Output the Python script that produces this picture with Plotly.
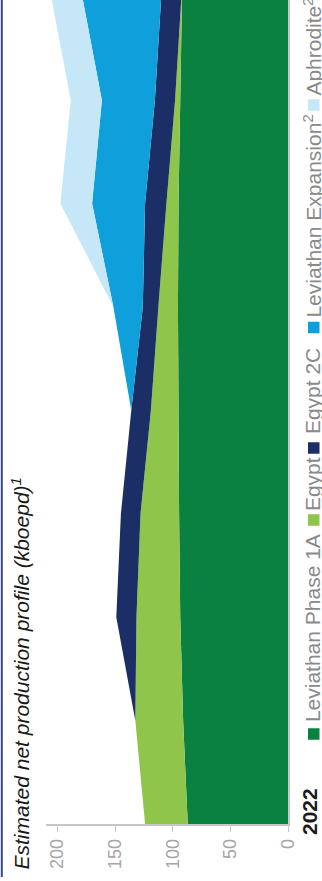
import plotly.graph_objects as go

# Estimated net production profile (kboepd), stacked by asset
years = [2022, 2023, 2024, 2025, 2026, 2027, 2028, 2029, 2030]
leviathan_1a = [87, 91, 93.5, 94.5, 95, 95.5, 95, 93.5, 92]
egypt = [37, 41.5, 38, 33.5, 24, 17, 10.5, 4.5, 0.5]
egypt_2c = [0, 0, 17.5, 17, 17, 13.5, 18.5, 17.5, 17.5]
leviathan_exp = [0, 0, 0, 0, 0, 25.5, 46, 46, 68.5]
aphrodite = [0, 0, 0, 0, 0, 0, 27.5, 27, 27]

series_names = ["Leviathan Phase 1A", "Egypt", "Egypt 2C",
                "Leviathan Expansion<sup>2</sup>", "Aphrodite<sup>2</sup>"]
series_values = [leviathan_1a, egypt, egypt_2c, leviathan_exp, aphrodite]
colors = ["#0a8141", "#8fc54a", "#1b2f66", "#0f9fda", "#c6e7f8"]

value_ticks = [0, 50, 100, 150, 200]
first_year_label = "2022"
title_text = "<i>Estimated net production profile (kboepd)<sup>1</sup></i>"

W, H = 322, 881
ML, MR, MT, MB = 46, 34, 0, 57
PW, PH = W - ML - MR, H - MT - MB


def px_x(px):
    return (px - ML) / PW


def px_y(py):
    return (H - MB - py) / PH


fig = go.Figure()
for name, vals, col in zip(series_names, series_values, colors):
    fig.add_trace(go.Scatter(
        x=vals, y=years, name=name, stackgroup="one", orientation="h",
        mode="none", fillcolor=col, hoverinfo="skip",
    ))

FONT = "Liberation Sans, Arial, sans-serif"

fig.update_layout(
    width=W, height=H,
    margin=dict(l=ML, r=MR, t=MT, b=MB, pad=0),
    paper_bgcolor="white", plot_bgcolor="white",
    showlegend=False,
    font=dict(family=FONT),
    xaxis=dict(
        range=[210, 0], tickvals=value_ticks, tickangle=-90,
        ticks="outside", ticklen=6, tickcolor="#c8c8c8", tickwidth=1,
        tickfont=dict(size=18, color="#a6a6a6", family=FONT),
        showline=True, linecolor="#c8c8c8", linewidth=1.5,
        showgrid=False, zeroline=False, fixedrange=True,
    ),
    yaxis=dict(
        range=[2022, 2022 + 824 / 103.4], side="right",
        showticklabels=False, ticks="",
        showline=True, linecolor="#c8c8c8", linewidth=1.5,
        showgrid=False, zeroline=False, fixedrange=True,
    ),
)

# left border rule
fig.add_shape(type="line", xref="paper", yref="paper",
              x0=px_x(1.8), x1=px_x(1.8), y0=px_y(0), y1=px_y(877),
              line=dict(color="#34488a", width=2))

# rotated chart title
fig.add_annotation(text=title_text, xref="paper", yref="paper",
                   x=px_x(20.5), y=px_y(674), textangle=-90,
                   xanchor="center", yanchor="middle", showarrow=False,
                   font=dict(size=21, color="#1a1a1a", family=FONT))

# first year label on the time axis
fig.add_annotation(text="<b>%s</b>" % first_year_label, xref="paper", yref="y",
                   x=px_x(309), y=years[0], yshift=12, textangle=-90,
                   xanchor="center", yanchor="middle", showarrow=False,
                   font=dict(size=21, color="#1a1a1a", family=FONT))

# legend: coloured squares with rotated labels
legend_sq = [734, 520, 448, 327.5, 105]
legend_txt = [628.5, 484.5, 391.5, 216, 47]
for name, col, sq, ty in zip(series_names, colors, legend_sq, legend_txt):
    fig.add_shape(type="rect", xref="paper", yref="paper",
                  x0=px_x(308), x1=px_x(319.5), y0=px_y(sq + 5.75), y1=px_y(sq - 5.75),
                  fillcolor=col, line=dict(width=0))
    fig.add_annotation(text=name, xref="paper", yref="paper",
                       x=px_x(312.6), y=px_y(ty), textangle=-90,
                       xanchor="center", yanchor="middle", showarrow=False,
                       font=dict(size=21, color="#8a8a8a", family=FONT))

fig.write_html("out.html")
